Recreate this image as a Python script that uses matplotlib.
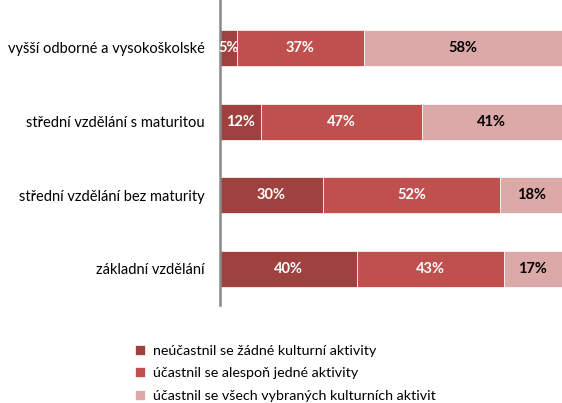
import matplotlib.pyplot as plt
import numpy as np

plt.rcParams['font.family'] = ['Lato', 'DejaVu Sans']

# data, bottom row first
categories = ['základní vzdělání', 'střední vzdělání bez maturity',
              'střední vzdělání s maturitou', 'vyšší odborné a vysokoškolské']
none_act = [40, 30, 12, 5]
one_act = [43, 52, 47, 37]
all_act = [17, 18, 41, 58]
series_names = ['neúčastnil se žádné kulturní aktivity',
                'účastnil se alespoň jedné aktivity',
                'účastnil se všech vybraných kulturních aktivit']
colors = ['#9E413F', '#C0504D', '#DBA9A8']
text_colors = ['white', 'white', 'black']

fig = plt.figure(figsize=(5.62, 4.03), dpi=100)
ax = fig.add_axes([220/562, 1 - 305/403, 342/562, 305/403])

y = np.arange(len(categories))
left = np.zeros(len(categories))
handles = []
for vals, col, tc, name in zip([none_act, one_act, all_act], colors, text_colors, series_names):
    bars = ax.barh(y, vals, left=left, height=0.49, color=col, edgecolor='white', linewidth=0.5, label=name)
    handles.append(bars)
    for yi, v, l in zip(y, vals, left):
        ax.text(l + v/2, yi, f'{v}%', ha='center', va='center', color=tc,
                fontsize=10.5, fontweight='bold')
    left = left + np.array(vals)

ax.set_xlim(0, 100)
ax.set_ylim(-0.49, 3.65)
ax.set_yticks(y)
ax.set_yticklabels(categories, fontsize=10.5)
ax.tick_params(axis='y', length=0, pad=11)
ax.set_xticks([])
for s in ['top', 'right', 'bottom']:
    ax.spines[s].set_visible(False)
ax.spines['left'].set_color('#888888')
ax.spines['left'].set_linewidth(1.8)

fig.legend(handles=handles, loc='upper left', bbox_to_anchor=(129/562, 1 - 339/403),
           frameon=False, fontsize=10.3, handlelength=0.7, handleheight=0.7,
           handletextpad=0.6, labelspacing=0.75, borderaxespad=0)

fig.savefig('out.png', dpi=100)
